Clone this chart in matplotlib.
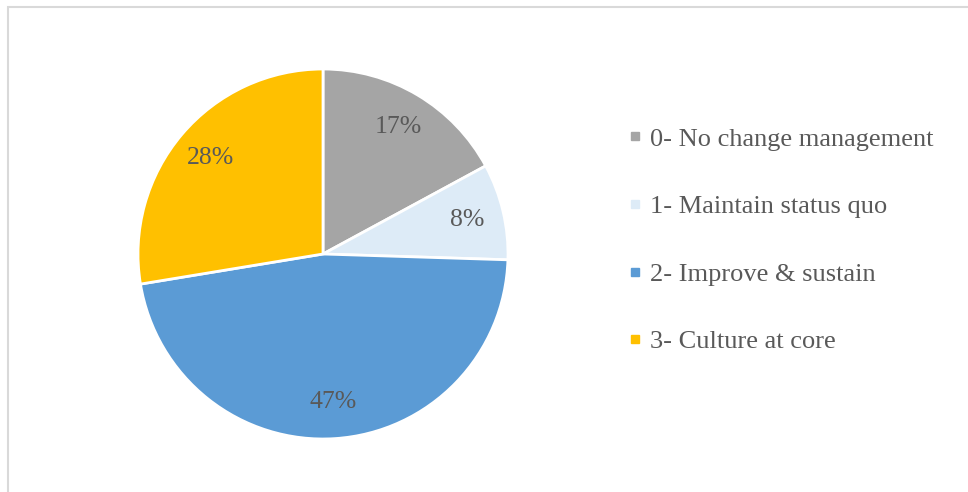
import matplotlib.pyplot as plt
from matplotlib.lines import Line2D
from matplotlib.patches import Rectangle

# data
labels = ['0- No change management', '1- Maintain status quo',
          '2- Improve & sustain', '3- Culture at core']
values = [17.1, 8.4, 46.9, 27.6]
colors = ['#A5A5A5', '#DDEBF7', '#5B9BD5', '#FFC000']

plt.rcParams['font.family'] = ['Liberation Serif', 'DejaVu Serif']
text_color = '#595959'

fig = plt.figure(figsize=(9.68, 4.92), dpi=100)

# light gray chart frame
fig.patches.append(Rectangle((8 / 968, -0.05), 1.0, (492 - 7) / 492 + 0.05,
                             transform=fig.transFigure, fill=False,
                             edgecolor='#D9D9D9', linewidth=1.5))

r = 185
ax = fig.add_axes([(323 - r) / 968, (492 - 254 - r) / 492, 2 * r / 968, 2 * r / 492])
wedges, texts, autotexts = ax.pie(values, colors=colors, startangle=90, counterclock=False,
                                  autopct='%1.0f%%', pctdistance=0.8,
                                  wedgeprops=dict(edgecolor='white', linewidth=2),
                                  textprops=dict(color=text_color, fontsize=18.5))
for w in wedges:
    w.set_clip_on(False)
ax.set_xlim(-1.0, 1.0)
ax.set_ylim(-1.0, 1.0)
ax.set_aspect('equal')

handles = [Line2D([], [], marker='s', linestyle='none', markersize=6,
                  markerfacecolor=c, markeredgecolor=c) for c in colors]
leg = fig.legend(handles, labels, loc='upper left', bbox_to_anchor=(616 / 968, 1 - 114 / 492),
                 frameon=False, fontsize=19, labelspacing=1.67, handlelength=0.45,
                 handletextpad=0.35, borderpad=0)
for t in leg.get_texts():
    t.set_color(text_color)

plt.savefig('out.png', dpi=100)
